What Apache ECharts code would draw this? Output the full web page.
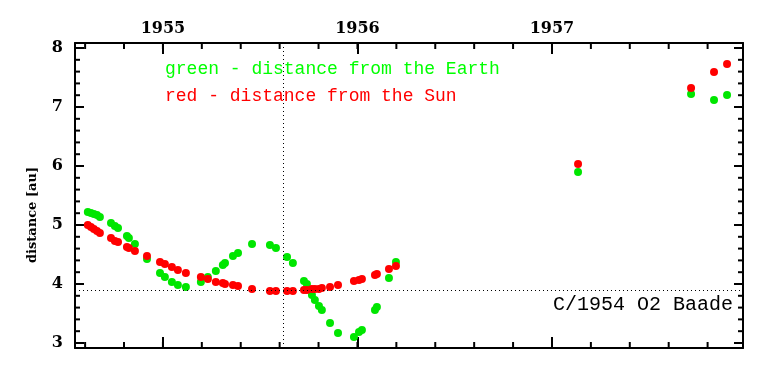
<!DOCTYPE html>
<html>
<head>
<meta charset="utf-8">
<script src="https://cdn.jsdelivr.net/npm/echarts@6/dist/echarts.min.js"></script>
<style>html,body{margin:0;padding:0;background:#fff}#c{width:768px;height:369px}</style>
</head>
<body>
<div id="c"></div>
<script>
// Observation dates (decimal years)
const obsDates = [1954.614, 1954.630, 1954.645, 1954.661, 1954.676, 1954.733, 1954.753, 1954.769,
  1954.815, 1954.825, 1954.856, 1954.918, 1954.985, 1955.010, 1955.046, 1955.077, 1955.118,
  1955.195, 1955.231, 1955.272, 1955.308, 1955.319, 1955.360, 1955.386, 1955.458, 1955.550,
  1955.581, 1955.638, 1955.668, 1955.725, 1955.740, 1955.766, 1955.781, 1955.802, 1955.817,
  1955.859, 1955.900, 1955.982, 1956.008, 1956.023, 1956.090, 1956.100, 1956.162, 1956.198,
  1957.134, 1957.715, 1957.833, 1957.900];
// distance from the Earth [au]
const earthDist = [5.220, 5.203, 5.186, 5.169, 5.136, 5.034, 4.983, 4.949, 4.814, 4.780, 4.678,
  4.424, 4.186, 4.119, 4.034, 3.983, 3.949, 4.034, 4.119, 4.220, 4.322, 4.356, 4.475, 4.525,
  4.678, 4.661, 4.610, 4.458, 4.356, 4.051, 4.000, 3.814, 3.729, 3.627, 3.559, 3.339, 3.169,
  3.102, 3.186, 3.220, 3.559, 3.610, 4.102, 4.373, 5.898, 7.220, 7.119, 7.203];
// distance from the Sun [au]
const sunDist = [5.000, 4.966, 4.932, 4.898, 4.864, 4.780, 4.729, 4.712, 4.627, 4.610, 4.559,
  4.475, 4.373, 4.339, 4.288, 4.237, 4.186, 4.119, 4.085, 4.034, 4.017, 4.000, 3.983, 3.966,
  3.915, 3.881, 3.881, 3.881, 3.881, 3.898, 3.898, 3.915, 3.915, 3.915, 3.932, 3.949, 3.983,
  4.051, 4.068, 4.085, 4.153, 4.169, 4.254, 4.305, 6.034, 7.322, 7.593, 7.729];
// perihelion
const periDate = 1955.617;
const periDist = 3.886;
// tick labels
const yearTicks = [1955, 1956, 1957];
const distTicks = [3, 4, 5, 6, 7, 8];
const cometName = 'C/1954 O2 Baade';
const legendGreen = 'green - distance from the Earth';
const legendRed = 'red - distance from the Sun';
const yTitle = 'distance [au]';

const xMin = 1954.548, xMax = 1957.982, yMin = 2.915, yMax = 8.085;
const minorX = [];
for (let i = 0; i <= 20; i++) { const v = +(1954.6 + i * 0.2).toFixed(1); if (v <= xMax) minorX.push(v); }
const minorY = [];
for (let i = 0; i <= 25; i++) { minorY.push(+(3 + i * 0.2).toFixed(1)); }

const green = obsDates.map((d, i) => [d, earthDist[i]]);
const red = obsDates.map((d, i) => [d, sunDist[i]]);

const clear = 'rgba(255,255,255,0)';

function mkAxis(pos, labels, min, max, vals, len, margin) {
  const lbl = labels
    ? {show: true, margin: margin, customValues: vals, formatter: (v) => String(v),
       fontFamily: 'DejaVu Serif', fontWeight: 'bold', fontSize: 16, color: '#000'}
    : {show: true, margin: 4, customValues: vals, fontSize: 6, color: clear};
  return {
    type: 'value', position: pos, min: min, max: max,
    axisLine: {show: true, lineStyle: {color: '#000', width: 2}},
    axisTick: {show: true, inside: true, length: len, customValues: vals,
      lineStyle: {color: '#000', width: 2}},
    axisLabel: lbl,
    splitLine: {show: false}
  };
}

function minorTickX(params, api) {
  const v = api.value(0);
  const b = api.coord([v, yMin]);
  const t = api.coord([v, yMax]);
  const st = {stroke: '#000', lineWidth: 2};
  return {type: 'group', children: [
    {type: 'line', shape: {x1: b[0], y1: b[1], x2: b[0], y2: b[1] - 6}, style: st},
    {type: 'line', shape: {x1: t[0], y1: t[1], x2: t[0], y2: t[1] + 6}, style: st}
  ]};
}
function minorTickY(params, api) {
  const v = api.value(1);
  const l = api.coord([xMin, v]);
  const r = api.coord([xMax, v]);
  const st = {stroke: '#000', lineWidth: 2};
  return {type: 'group', children: [
    {type: 'line', shape: {x1: l[0], y1: l[1], x2: l[0] + 5, y2: l[1]}, style: st},
    {type: 'line', shape: {x1: r[0], y1: r[1], x2: r[0] - 5, y2: r[1]}, style: st}
  ]};
}

const chart = echarts.init(document.getElementById('c'), null, {renderer: 'canvas'});
chart.setOption({
  animation: false,
  backgroundColor: '#fff',
  grid: {left: 75, top: 43, right: 25, bottom: 21, containLabel: false},
  xAxis: [mkAxis('top', true, xMin, xMax, yearTicks, 11, 6), mkAxis('bottom', false, xMin, xMax, yearTicks, 11, 6)],
  yAxis: [mkAxis('left', true, yMin, yMax, distTicks, 9, 12), mkAxis('right', false, yMin, yMax, distTicks, 9, 12)],
  series: [
    {
      type: 'custom', name: 'xMinorTicks', xAxisIndex: 0, yAxisIndex: 0, silent: true, clip: false,
      data: minorX.map(v => [v, yMin]), encode: {x: 0, y: 1}, renderItem: minorTickX, z: 5
    },
    {
      type: 'custom', name: 'yMinorTicks', xAxisIndex: 0, yAxisIndex: 0, silent: true, clip: false,
      data: minorY.map(v => [xMin, v]), encode: {x: 0, y: 1}, renderItem: minorTickY, z: 5
    },
    {
      type: 'scatter', name: 'Earth', xAxisIndex: 0, yAxisIndex: 0, data: green,
      symbolSize: 8, itemStyle: {color: '#00e600', opacity: 1},
      markLine: {
        silent: true, symbol: 'none', label: {show: false},
        lineStyle: {color: '#000', width: 1, type: [1, 3]},
        data: [{xAxis: periDate}, {yAxis: periDist}]
      }
    },
    {
      type: 'scatter', name: 'Sun', xAxisIndex: 0, yAxisIndex: 0, data: red,
      symbolSize: 8, itemStyle: {color: '#ff0000', opacity: 1}
    }
  ],
  graphic: [
    {type: 'text', left: 165, top: 60, style: {text: legendGreen, fill: '#00ff00', font: '18px "Liberation Mono"'}},
    {type: 'text', left: 165, top: 87, style: {text: legendRed, fill: '#ff0000', font: '18px "Liberation Mono"'}},
    {type: 'text', x: 733, y: 305, style: {text: cometName, fill: '#000', font: '20px "Liberation Mono"', textAlign: 'right', textVerticalAlign: 'middle'}},
    {type: 'text', x: 33, y: 215, rotation: Math.PI / 2, style: {text: yTitle, fill: '#000', font: 'bold 13px "DejaVu Serif"', textAlign: 'center', textVerticalAlign: 'middle'}}
  ]
});
</script>
</body>
</html>
